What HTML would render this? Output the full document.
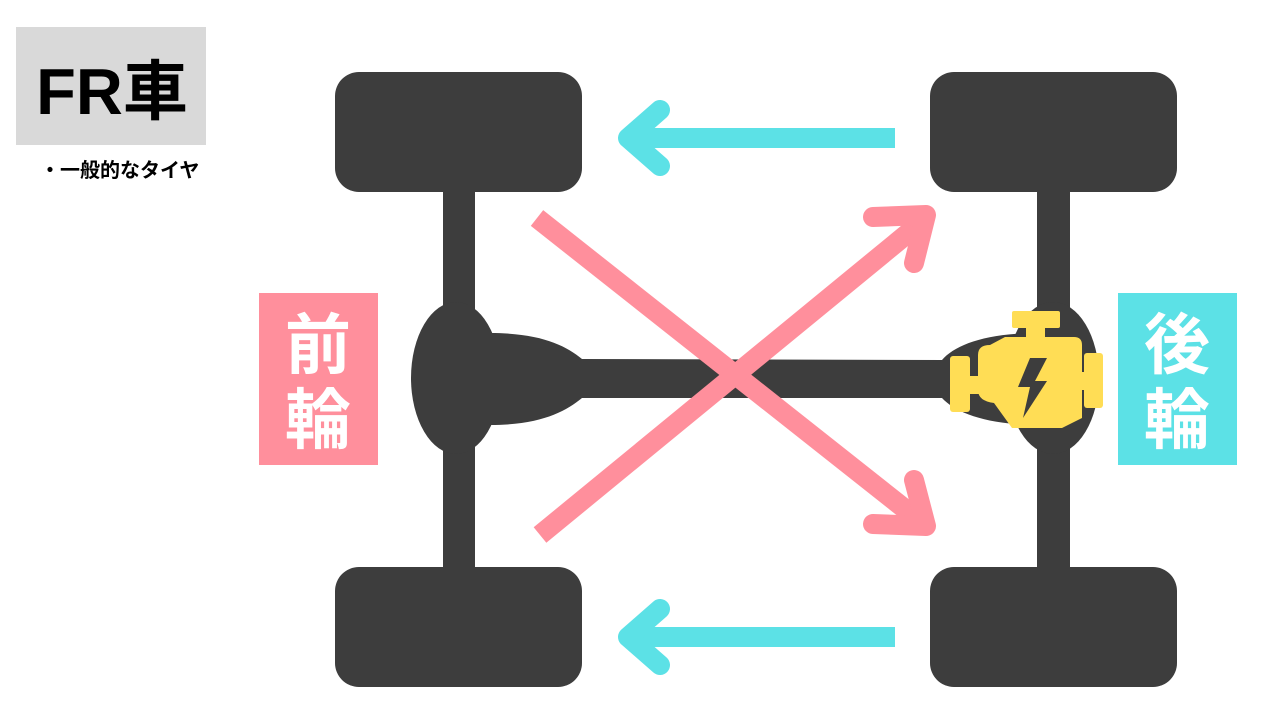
<!DOCTYPE html>
<html><head><meta charset="utf-8"><style>
html,body{margin:0;padding:0;background:#fff;}
body{width:1280px;height:720px;position:relative;overflow:hidden;font-family:"Liberation Sans","Noto Sans CJK JP",sans-serif;}
</style></head><body>
<svg width="1280" height="720" viewBox="0 0 1280 720" style="position:absolute;left:0;top:0">
<rect x="16" y="27" width="190" height="118" fill="#D9D9D9"/>
<text x="112" y="114" text-anchor="middle" font-size="65" font-weight="bold" font-family="Liberation Sans, Noto Sans CJK JP, sans-serif" fill="#000">FR車</text>
<text x="40" y="177" font-size="20" font-weight="bold" font-family="Liberation Sans, Noto Sans CJK JP, sans-serif" fill="#000">・一般的なタイヤ</text>

<g fill="#3D3D3D">
<rect x="443" y="180" width="32" height="400"/>
<rect x="1037" y="180" width="33" height="400"/>
<rect x="335" y="72" width="247" height="120" rx="24"/>
<rect x="335" y="567" width="247" height="120" rx="24"/>
<rect x="930" y="72" width="247" height="120" rx="24"/>
<rect x="930" y="567" width="247" height="120" rx="24"/>
<ellipse cx="456" cy="378" rx="45" ry="76"/>
<ellipse cx="1053" cy="378" rx="46" ry="76"/>
<path d="M490 333 C540 333 565 345 582 359 L942 360 C955 345 985 333 1040 333 L1040 425 C985 425 955 412 942 398 L582 398 C565 412 540 425 490 425 Z"/>
</g>

<g fill="#FFDD55">
<rect x="1012" y="311" width="48" height="17" rx="2"/>
<rect x="1026" y="326" width="19" height="13"/>
<path d="M1005 337 L1074 337 Q1082 337 1082 345 L1082 418 L1062 428 L1012 428 L994 403 Q978 401 978 390 L978 355 Q978 345 990 345 Z"/>
<rect x="950" y="356" width="20" height="56" rx="3"/>
<rect x="966" y="376" width="14" height="18"/>
<rect x="1084" y="353" width="19" height="55" rx="3"/>
<rect x="1078" y="372" width="10" height="18"/>
</g>
<path d="M1030 358 L1047 358 L1035 381 L1047 381 L1023 418 L1030 387 L1018 387 Z" fill="#3D3D3D"/>

<g stroke="#5CE1E6" stroke-width="20" fill="none">
<line x1="895" y1="138" x2="632" y2="138"/>
<polyline points="660,110 628,138 660,166" stroke-linecap="round" stroke-linejoin="round"/>
<line x1="895" y1="637" x2="632" y2="637"/>
<polyline points="660,609 628,637 660,665" stroke-linecap="round" stroke-linejoin="round"/>
</g>

<g stroke="#FF8F9C" stroke-width="20" fill="none">
<line x1="537" y1="218" x2="924" y2="524"/>
<polyline points="873,524 926,526 914,480" stroke-linecap="round" stroke-linejoin="round"/>
<line x1="540" y1="535" x2="924" y2="220"/>
<polyline points="873,217 926,215 914,263" stroke-linecap="round" stroke-linejoin="round"/>
</g>

<rect x="259" y="293" width="119" height="172" fill="#FF8F9C"/>
<text x="318" y="368" text-anchor="middle" font-size="66" font-weight="bold" font-family="Noto Sans CJK JP, sans-serif" fill="#fff">前</text>
<text x="318" y="443" text-anchor="middle" font-size="66" font-weight="bold" font-family="Noto Sans CJK JP, sans-serif" fill="#fff">輪</text>
<rect x="1118" y="293" width="119" height="172" fill="#5CE1E6"/>
<text x="1177" y="368" text-anchor="middle" font-size="66" font-weight="bold" font-family="Noto Sans CJK JP, sans-serif" fill="#fff">後</text>
<text x="1177" y="443" text-anchor="middle" font-size="66" font-weight="bold" font-family="Noto Sans CJK JP, sans-serif" fill="#fff">輪</text>
</svg>
</body></html>
